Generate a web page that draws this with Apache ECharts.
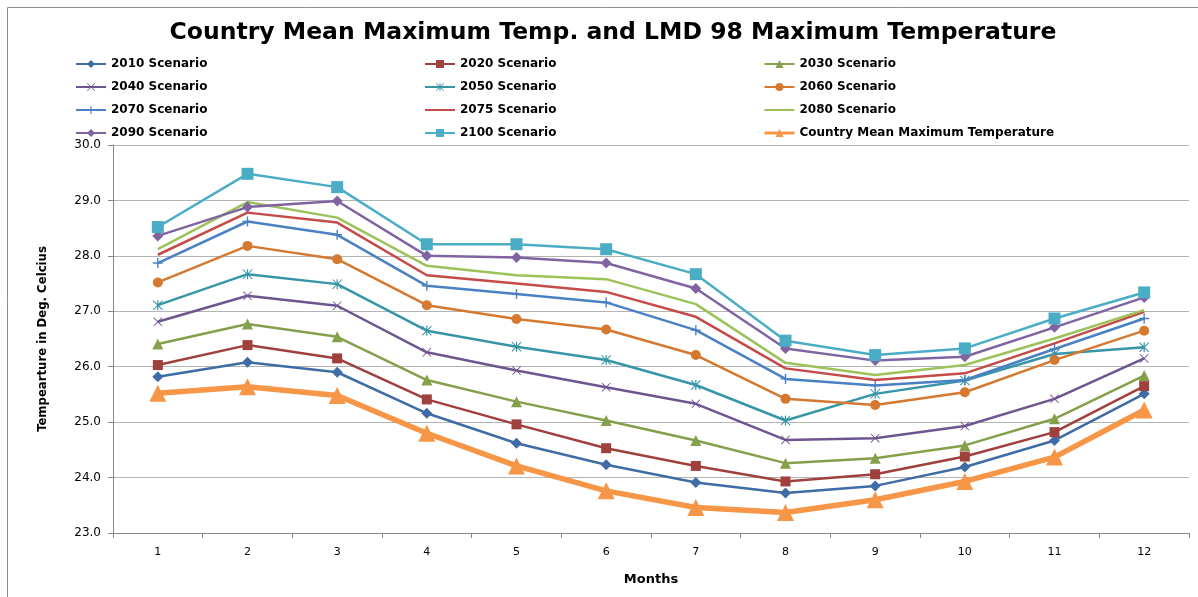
<!DOCTYPE html>
<html>
<head>
<meta charset="utf-8">
<style>
  html, body { margin: 0; padding: 0; background: #fff; }
  #chart { width: 1198px; height: 597px; }
</style>
<script src="https://cdn.jsdelivr.net/npm/echarts@6/dist/echarts.min.js"></script>
</head>
<body>
<div id="chart"></div>
<script>
// months on the x axis
const months = ['1', '2', '3', '4', '5', '6', '7', '8', '9', '10', '11', '12']

// values (deg C)
const s2010 = [25.82, 26.08, 25.90, 25.16, 24.62, 24.23, 23.91, 23.72, 23.85, 24.19, 24.67, 25.51]
const s2020 = [26.03, 26.39, 26.15, 25.41, 24.96, 24.53, 24.21, 23.93, 24.06, 24.38, 24.82, 25.65]
const s2030 = [26.41, 26.77, 26.54, 25.76, 25.37, 25.03, 24.67, 24.26, 24.35, 24.58, 25.06, 25.84]
const s2040 = [26.81, 27.28, 27.10, 26.26, 25.93, 25.63, 25.33, 24.68, 24.71, 24.93, 25.42, 26.15]
const s2050 = [27.11, 27.67, 27.49, 26.65, 26.36, 26.12, 25.67, 25.03, 25.51, 25.75, 26.23, 26.35]
const s2060 = [27.52, 28.18, 27.94, 27.11, 26.86, 26.67, 26.21, 25.42, 25.31, 25.54, 26.12, 26.65]
const s2070 = [27.87, 28.62, 28.38, 27.46, 27.31, 27.16, 26.66, 25.78, 25.66, 25.76, 26.32, 26.87]
const s2075 = [28.02, 28.78, 28.60, 27.65, 27.50, 27.35, 26.90, 25.97, 25.76, 25.88, 26.42, 26.99]
const s2080 = [28.12, 28.97, 28.69, 27.82, 27.65, 27.58, 27.13, 26.07, 25.85, 26.03, 26.51, 27.02]
const s2090 = [28.36, 28.88, 28.99, 28.00, 27.97, 27.87, 27.41, 26.33, 26.11, 26.18, 26.71, 27.25]
const s2100 = [28.52, 29.48, 29.24, 28.21, 28.21, 28.12, 27.67, 26.47, 26.21, 26.33, 26.87, 27.34]
const countryMean = [25.52, 25.64, 25.48, 24.80, 24.21, 23.76, 23.46, 23.37, 23.60, 23.93, 24.37, 25.22]

const yTicks = { min: 23, max: 30, step: 1 }

// marker shapes that echarts has no builtin for
const plusPath = 'path://M4.3,0H5.7V4.3H10V5.7H5.7V10H4.3V5.7H0V4.3H4.3Z'
const crossPath = 'path://M0.7,0L5,4.3L9.3,0L10,0.7L5.7,5L10,9.3L9.3,10L5,5.7L0.7,10L0,9.3L4.3,5L0,0.7Z'
const starPath = crossPath + 'M4.4,0H5.6V10H4.4Z'

function line(name, data, color, symbol, size, width) {
  return {
    name,
    type: 'line',
    data,
    symbol,
    symbolSize: size,
    showSymbol: symbol !== 'none',
    itemStyle: { color },
    lineStyle: { color, width: width || 2.5 },
    animation: false
  }
}

const font = 'DejaVu Sans'
const legendText = { fontFamily: font, fontWeight: 'bold', fontSize: 12, color: '#000' }
function legendCol(left, names) {
  return {
    orient: 'vertical',
    left,
    top: 53,
    itemWidth: 30,
    itemHeight: 10,
    itemGap: 11,
    textStyle: legendText,
    data: names
  }
}
// lines drawn without markers get no marker in the legend either
const noMark = name => ({ name, itemStyle: { opacity: 0 } })

const chart = echarts.init(document.getElementById('chart'))
chart.setOption({
  backgroundColor: '#fff',
  title: {
    text: 'Country Mean Maximum Temp. and LMD 98 Maximum Temperature',
    left: 608,
    textAlign: 'center',
    top: 16,
    textStyle: { fontFamily: font, fontWeight: 'bold', fontSize: 23.5, color: '#000' }
  },
  graphic: [{
    type: 'rect',
    shape: { x: 7.5, y: 7.5, width: 1300, height: 700 },
    style: { fill: 'none', stroke: '#8c8c8c', lineWidth: 1 },
    silent: true
  }],
  legend: [
    legendCol(70, ['2010 Scenario', '2040 Scenario', '2070 Scenario', '2090 Scenario']),
    legendCol(419, ['2020 Scenario', '2050 Scenario', noMark('2075 Scenario'), '2100 Scenario']),
    legendCol(758, ['2030 Scenario', '2060 Scenario', noMark('2080 Scenario'),
      { name: 'Country Mean Maximum Temperature', lineStyle: { width: 3 } }])
  ],
  grid: { left: 113, right: 9, top: 145, bottom: 64 },
  xAxis: {
    type: 'category',
    data: months,
    boundaryGap: true,
    name: 'Months',
    nameLocation: 'middle',
    nameGap: 40,
    nameTextStyle: { fontFamily: font, fontWeight: 'bold', fontSize: 13, color: '#000' },
    axisLine: { lineStyle: { color: '#888', width: 1 } },
    axisTick: { show: true, alignWithLabel: false, length: 5, lineStyle: { color: '#888' } },
    axisLabel: { fontFamily: font, fontSize: 11, color: '#000', margin: 14 },
    splitLine: { show: false }
  },
  yAxis: {
    type: 'value',
    min: yTicks.min,
    max: yTicks.max,
    interval: yTicks.step,
    name: 'Tempearture in Deg. Celcius',
    nameLocation: 'middle',
    nameGap: 64,
    nameTextStyle: { fontFamily: 'DejaVu Sans Condensed, Liberation Sans, sans-serif', fontWeight: 'bold', fontSize: 13, color: '#000' },
    axisLine: { show: true, lineStyle: { color: '#888', width: 1 } },
    axisTick: { show: true, length: 5, lineStyle: { color: '#888' } },
    axisLabel: {
      fontFamily: font, fontSize: 12, color: '#000', margin: 12,
      formatter: v => v.toFixed(1)
    },
    splitLine: { show: true, lineStyle: { color: '#b4b4b4', width: 1.2 } }
  },
  series: [
    line('2010 Scenario', s2010, '#3f6ca4', 'diamond', 11),
    line('2020 Scenario', s2020, '#a0403d', 'rect', 10),
    line('2030 Scenario', s2030, '#84a04a', 'triangle', 11),
    line('2040 Scenario', s2040, '#6e5590', crossPath, 9),
    line('2050 Scenario', s2050, '#3795a8', starPath, 10),
    line('2060 Scenario', s2060, '#d4792f', 'circle', 10),
    line('2070 Scenario', s2070, '#4a80c4', plusPath, 10),
    line('2075 Scenario', s2075, '#c44b47', 'none', 0),
    line('2080 Scenario', s2080, '#9dc25a', 'none', 0),
    line('2090 Scenario', s2090, '#8064a2', 'diamond', 11),
    line('2100 Scenario', s2100, '#4bacc6', 'rect', 12),
    line('Country Mean Maximum Temperature', countryMean, '#f79646', 'triangle', 17, 5.5)
  ]
})
</script>
</body>
</html>
